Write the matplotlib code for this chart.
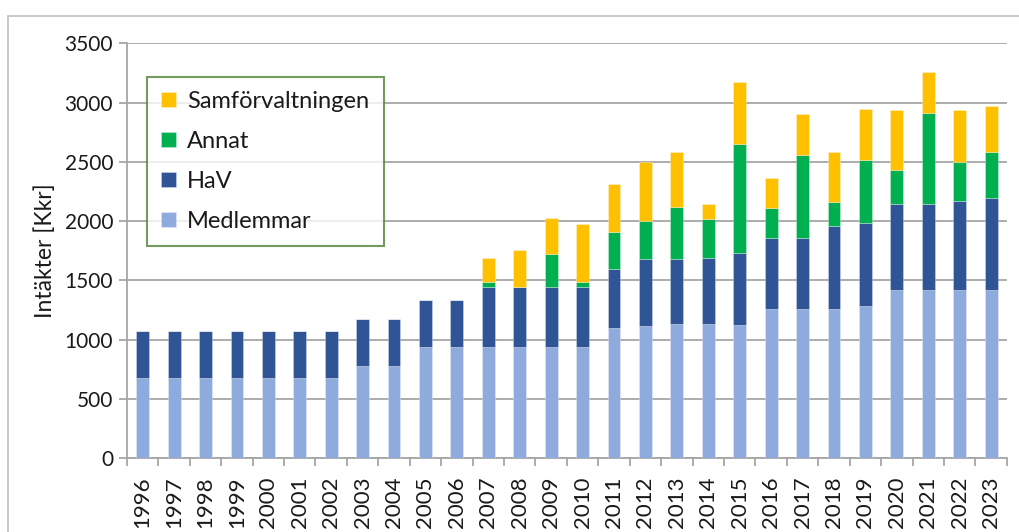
import matplotlib.pyplot as plt
import matplotlib.patches as mpatches
import numpy as np

plt.rcParams['font.family'] = ['Lato', 'DejaVu Sans']

years = [str(y) for y in range(1996, 2024)]

medlemmar = [675, 675, 675, 675, 675, 675, 675, 780, 780, 935, 935, 935, 935, 935,
             935, 1102, 1119, 1130, 1130, 1127, 1256, 1256, 1256, 1284, 1422, 1422, 1422, 1422]
hav = [400, 400, 400, 400, 400, 400, 400, 395, 395, 400, 400, 506, 506, 506,
       506, 493, 564, 553, 563, 603, 600, 600, 701, 701, 726, 726, 745, 776]
annat = [0, 0, 0, 0, 0, 0, 0, 0, 0, 0, 0, 48, 0, 280,
         48, 311, 319, 437, 329, 923, 256, 698, 202, 533, 286, 768, 332, 387]
samf = [0, 0, 0, 0, 0, 0, 0, 0, 0, 0, 0, 203, 320, 309,
        485, 408, 499, 465, 126, 524, 252, 351, 426, 427, 502, 340, 437, 387]

series = [
    ("Medlemmar", medlemmar, "#8FAADC"),
    ("HaV", hav, "#2F5597"),
    ("Annat", annat, "#00B050"),
    ("Samförvaltningen", samf, "#FFC000"),
]

fig = plt.figure(figsize=(10.19, 5.32), dpi=100)
ax = fig.add_axes([0.1246, 0.1385, 0.8634, 0.7801])

x = np.arange(len(years))
bottom = np.zeros(len(years))
handles = []
for name, vals, col in series:
    vals = np.array(vals, dtype=float)
    b = ax.bar(x, vals, 0.41, bottom=bottom, color=col, label=name,
               edgecolor=(1, 1, 1, 0.35), linewidth=0.6, zorder=3)
    bottom += vals
    handles.append(b)

ax.set_xlim(-0.5, len(years) - 0.5)
ax.set_ylim(0, 3500)
ax.set_yticks(range(0, 3501, 500))
ax.yaxis.grid(True, color="#A6A6A6", linewidth=1.3, zorder=0)
ax.set_axisbelow(True)

for s in ["top", "right"]:
    ax.spines[s].set_visible(False)
ax.spines["left"].set_color("#A6A6A6")
ax.spines["bottom"].set_color("#A6A6A6")
ax.spines["left"].set_linewidth(1.3)
ax.spines["bottom"].set_linewidth(1.3)

ax.set_xticks(x)
ax.set_xticklabels(years, rotation=90, fontsize=16, color="#1a1a1a")
ax.tick_params(axis="x", length=0, pad=13)
ax.set_xticks(np.arange(-0.5, len(years), 1), minor=True)
ax.tick_params(axis="x", which="minor", length=6, color="#A6A6A6", width=1.3)
ax.tick_params(axis="y", length=6, color="#A6A6A6", width=1.3, labelsize=15,
               labelcolor="#1a1a1a", pad=4)
ax.set_ylabel("Intäkter [Kkr]", fontsize=16.5, color="#1a1a1a", labelpad=6)

leg = ax.legend(handles[::-1], [s[0] for s in series][::-1],
                loc="upper left", bbox_to_anchor=(0.023, 0.919),
                fontsize=17, frameon=True, fancybox=False,
                handlelength=0.6, handleheight=0.6, handletextpad=0.5,
                labelspacing=0.8, borderpad=0.6, borderaxespad=0)
leg.get_frame().set_edgecolor("#538135")
leg.get_frame().set_linewidth(1.5)
for t in leg.get_texts():
    t.set_color("#1a1a1a")

# outer chart border
fig.patches.append(mpatches.Rectangle((8 / 1019, -0.1), 1.2, 0.97 + 0.1,
                                      transform=fig.transFigure, fill=False,
                                      edgecolor="#BFBFBF", linewidth=1.2))

fig.savefig("out.png", dpi=100)
